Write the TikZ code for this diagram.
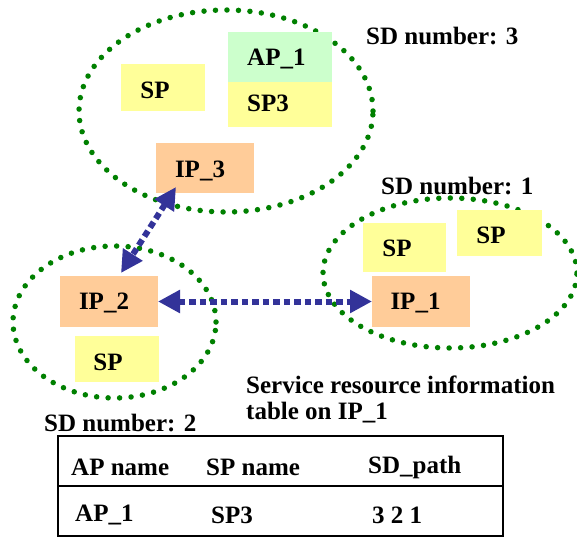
\documentclass[tikz,border=0pt]{standalone}
\usepackage{fontspec}
\setmainfont{Liberation Serif}
\usetikzlibrary{arrows.meta,shapes.geometric}
\definecolor{spy}{HTML}{FFFF99}
\definecolor{apg}{HTML}{CCFFCC}
\definecolor{ipo}{HTML}{FFCC99}
\definecolor{arrb}{HTML}{333399}
\definecolor{dotg}{HTML}{008000}
\tikzset{
  sdell/.style={draw=dotg, line width=5.5pt, line cap=round, dash pattern=on 0pt off 11.5pt},
  boxbase/.style={inner sep=0pt, outer sep=0pt},
  spbox/.style={boxbase, fill=spy},
  apbox/.style={boxbase, fill=apg},
  ipbox/.style={boxbase, fill=ipo},
  lbl/.style={font=\fontsize{25}{29}\selectfont\bfseries, inner sep=0pt},
  lblw/.style={lbl, anchor=west},
  link/.style={draw=arrb, line width=6pt, dash pattern=on 6.5pt off 4pt,
    {Triangle[length=22pt,width=22pt]}-{Triangle[length=22pt,width=22pt]}},
  tbl/.style={draw=black, line width=1.5pt}
}
\begin{document}
\begin{tikzpicture}[x=1pt,y=-1pt]
\useasboundingbox (0,0) rectangle (577,537);
% SD ellipses
\node[sdell, ellipse, minimum width=294pt, minimum height=202pt, inner sep=0pt] (sd3) at (226,111) {};
\node[sdell, ellipse, minimum width=203pt, minimum height=152pt, inner sep=0pt] (sd2) at (114.5,322) {};
\node[sdell, ellipse, minimum width=254pt, minimum height=150pt, inner sep=0pt] (sd1) at (450,273) {};
% boxes in SD3
\node[spbox, minimum width=84pt, minimum height=47pt] (spa) at (163,87.5) {};
\node[lbl] (spat) at (155,90) {SP};
\node[apbox, minimum width=104pt, minimum height=50pt] (ap1) at (280,57) {};
\node[lblw] (ap1t) at (247,59) {AP\_1};
\node[spbox, minimum width=104pt, minimum height=45pt] (sp3) at (280,104.5) {};
\node[lblw] (sp3t) at (247,103) {SP3};
\node[ipbox, minimum width=98pt, minimum height=50pt] (ip3) at (205,168) {};
\node[lbl] (ip3t) at (200,171) {IP\_3};
% boxes in SD2
\node[ipbox, minimum width=98pt, minimum height=51pt] (ip2) at (109,301.5) {};
\node[lbl] (ip2t) at (104,303) {IP\_2};
\node[spbox, minimum width=84pt, minimum height=46pt] (spb) at (117,359) {};
\node[lbl] (spbt) at (108,362) {SP};
% boxes in SD1
\node[spbox, minimum width=83pt, minimum height=49pt] (spc) at (404.5,247.5) {};
\node[lbl] (spct) at (397,248) {SP};
\node[spbox, minimum width=85pt, minimum height=46pt] (spd) at (499.5,233) {};
\node[lbl] (spdt) at (491,235) {SP};
\node[ipbox, minimum width=98pt, minimum height=51pt] (ip1) at (421,301.5) {};
\node[lbl] (ip1t) at (415.5,303) {IP\_1};
% SD labels
\node[lblw] (sd3l) at (366,36) {SD number: 3};
\node[lblw] (sd1l) at (381,186) {SD number: 1};
\node[lblw] (sd2l) at (44,423) {SD number: 2};
\node[lblw] (srit) at (246,385) {Service resource information};
\node[lblw] (srit2) at (246,413) {table on IP\_1};
% connectors
\coordinate (a3) at (176,187);
\coordinate (a2) at (121,273);
\draw[link] (a3) -- (a2);
\draw[link] (ip2.east) -- (ip1.west);
% table
\node[tbl, inner sep=0pt, minimum width=445pt, minimum height=100pt] (table) at (280.5,486) {};
\draw[tbl] (table.west) -- (table.east);
\node[lblw] (h1) at (71,467) {AP name};
\node[lblw] (h2) at (206,467) {SP name};
\node[lblw] (h3) at (368,467) {SD\_path};
\node[lblw] (r1) at (75,515) {AP\_1};
\node[lblw] (r2) at (211,515) {SP3};
\node[lblw] (r3) at (372,515) {3 2 1};
\end{tikzpicture}
\end{document}
